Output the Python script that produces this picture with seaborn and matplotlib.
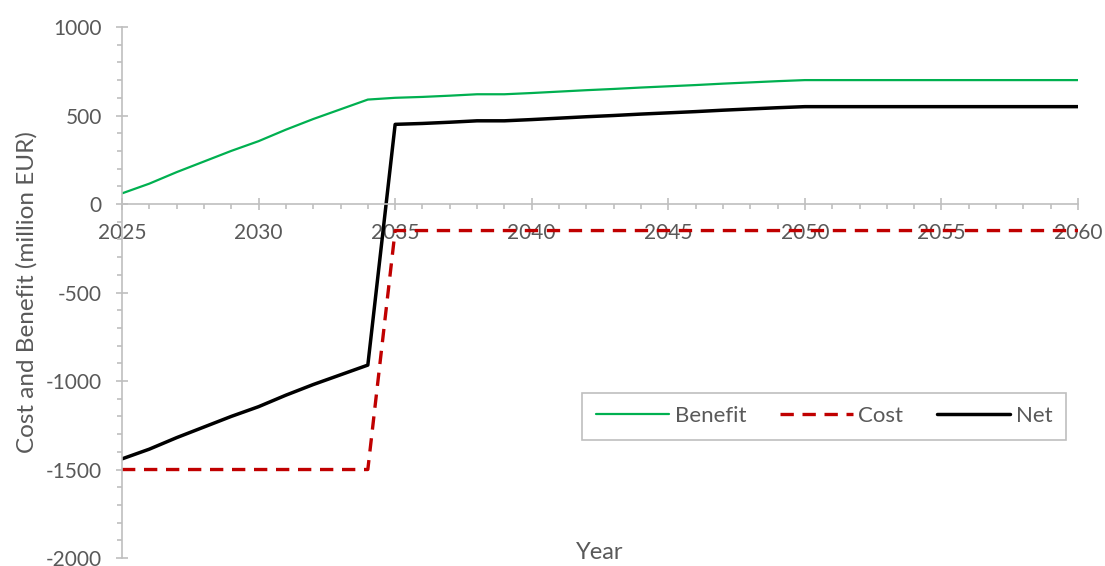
import seaborn as sns
import matplotlib.pyplot as plt
import pandas as pd
from matplotlib.ticker import MultipleLocator

# values (million EUR)
years = list(range(2025, 2061))
benefit = [60, 115, 180, 240, 300, 355, 420, 480, 535, 590,
           600, 605, 612, 620, 620, 627, 635, 643, 650, 658,
           665, 672, 680, 687, 694, 700, 700, 700, 700, 700,
           700, 700, 700, 700, 700, 700]
cost = [-1500] * 10 + [-150] * 26
net = [-1440, -1385, -1320, -1260, -1200, -1145, -1080, -1020, -965, -910,
       450, 455, 462, 470, 470, 477, 485, 493, 500, 508,
       515, 522, 530, 537, 544, 550, 550, 550, 550, 550,
       550, 550, 550, 550, 550, 550]

df = pd.DataFrame({"Year": years, "Benefit": benefit, "Cost": cost, "Net": net})

sns.set_style("white")
plt.rcParams['font.family'] = ['Lato', 'DejaVu Sans']
plt.rcParams['axes.unicode_minus'] = False

grey = "#595959"
axis_grey = "#BFBFBF"

fig = plt.figure(figsize=(11.05, 5.66), dpi=100)
ax = fig.add_axes([0.1104, 0.0141, 0.8652, 0.9382])

styles = {
    "Benefit": dict(color="#00B050", linewidth=1.6),
    "Cost": dict(color="#C00000", linewidth=2.4, dashes=(4, 2.6)),
    "Net": dict(color="black", linewidth=2.5),
}
for name in ["Benefit", "Cost", "Net"]:
    sns.lineplot(data=df, x="Year", y=name, ax=ax, label=name, **styles[name])

ax.set_xlim(2025, 2060)
ax.set_ylim(-2000, 1000)
ax.xaxis.set_major_locator(MultipleLocator(5))
ax.xaxis.set_minor_locator(MultipleLocator(1))
ax.yaxis.set_major_locator(MultipleLocator(500))
ax.yaxis.set_minor_locator(MultipleLocator(100))

for s in ["top", "right"]:
    ax.spines[s].set_visible(False)
ax.spines["bottom"].set_position(("data", 0))
for s in ["left", "bottom"]:
    ax.spines[s].set_color(axis_grey)
    ax.spines[s].set_linewidth(1.2)

ax.tick_params(which="both", bottom=True, left=True)
ax.tick_params(which="major", direction="inout", length=9, width=1.2,
               color=axis_grey, labelcolor=grey, labelsize=15)
ax.tick_params(which="minor", direction="out", length=3.5, width=1.2, color=axis_grey)
ax.tick_params(axis="x", which="major", pad=9)
ax.tick_params(axis="y", which="major", pad=10)

ax.set_xlabel("Year", fontsize=17, color=grey)
ax.set_ylabel("Cost and Benefit (million EUR)", fontsize=17.5, color=grey)
ax.xaxis.set_label_coords(0.5, 0.03)
ax.yaxis.set_label_coords(-0.088, 0.5)

leg = ax.legend(loc="upper right", bbox_to_anchor=(0.987, 0.311), ncol=3,
                frameon=True, fancybox=False, framealpha=1, edgecolor=axis_grey,
                fontsize=16, handlelength=3.3, handletextpad=0.25,
                columnspacing=1.5, borderpad=0.6, borderaxespad=0)
leg.get_frame().set_linewidth(1.2)
for t in leg.get_texts():
    t.set_color(grey)

fig.savefig("out.png", dpi=100)
